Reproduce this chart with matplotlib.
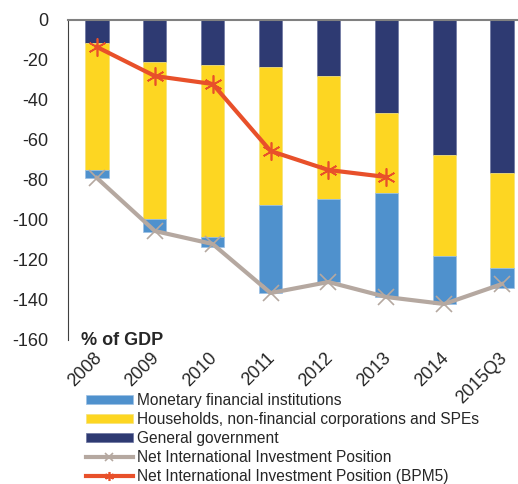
import matplotlib.pyplot as plt
import matplotlib.transforms as mtransforms
import numpy as np

plt.rcParams['font.family'] = ['Liberation Sans', 'DejaVu Sans']
plt.rcParams['axes.unicode_minus'] = False

years = ['2008', '2009', '2010', '2011', '2012', '2013', '2014', '2015Q3']
gov = [-11.5, -21, -22.5, -23.3, -28, -46.5, -67.5, -76.5]
households = [-63.5, -78.5, -86, -69.2, -61.5, -40, -50.5, -47.5]
mfi = [-4, -6.5, -5, -44, -41.5, -52, -24, -10]
niip = [-79, -105.5, -112, -136.5, -131, -138.5, -142, -132]
niip_bpm5 = [-13.5, -28, -32, -65.5, -75, -78.5]

c_mfi = '#4F91CD'
c_hh = '#FDD622'
c_gov = '#2E3A72'
c_niip = '#B5A8A0'
c_bpm5 = '#E8502A'
c_text = '#262626'

fig = plt.figure(figsize=(5.18, 4.84), dpi=100)
ax = fig.add_axes([68/518, 1-340/484, 463/518, 320/484])

x = np.arange(len(years))
w = 0.4
gov = np.array(gov)
households = np.array(households)
b_gov = ax.bar(x, gov, w, color=c_gov, edgecolor='#6b74a0', linewidth=0.5,
               label='General government')
b_hh = ax.bar(x, households, w, bottom=gov, color=c_hh, edgecolor='#f5e27a',
              linewidth=0.5, label='Households, non-financial corporations and SPEs')
b_mfi = ax.bar(x, mfi, w, bottom=gov + households, color=c_mfi, edgecolor='#9cc0e4',
               linewidth=0.5, label='Monetary financial institutions')

l_niip, = ax.plot(x, niip, color=c_niip, lw=3, marker='x', markersize=11,
                  markeredgewidth=1.2, label='Net International Investment Position')
l_bpm5, = ax.plot(x[:len(niip_bpm5)], niip_bpm5, color=c_bpm5, lw=3,
                  marker=(6, 2, 0), markersize=13, markeredgewidth=1.2,
                  label='Net International Investment Position (BPM5)')

ax.set_xlim(-0.5, 7.5)
ax.set_ylim(-160, 0)
ax.set_yticks(np.arange(-160, 1, 20))
ax.tick_params(axis='y', length=0, labelsize=13, pad=14, labelcolor=c_text)
ax.tick_params(axis='x', length=0, pad=7, labelcolor=c_text)
ax.set_xticks(x)
ax.set_xticklabels(years, rotation=45, ha='right', rotation_mode='anchor', fontsize=13)
shift = mtransforms.ScaledTranslation(-4/100, 0, fig.dpi_scale_trans)
for lab in ax.get_xticklabels():
    lab.set_transform(lab.get_transform() + shift)

for s in ['right', 'bottom']:
    ax.spines[s].set_visible(False)
ax.spines['left'].set_color('#404040')
ax.spines['top'].set_color('#808080')
ax.spines['top'].set_linewidth(1.5)

fig.text(81/518, 1-345/484, '% of GDP', fontsize=13, fontweight='bold', color=c_text)

fig.legend(handles=[b_mfi, b_hh, b_gov, l_niip, l_bpm5], loc='upper left',
           bbox_to_anchor=(86/518, 1-393/484), frameon=False, fontsize=11.2,
           handlelength=3.0, handleheight=0.5, labelspacing=0.25, handletextpad=0.3,
           borderpad=0, borderaxespad=0, markerscale=0.5, labelcolor=c_text)

fig.savefig('out.png', dpi=100)
